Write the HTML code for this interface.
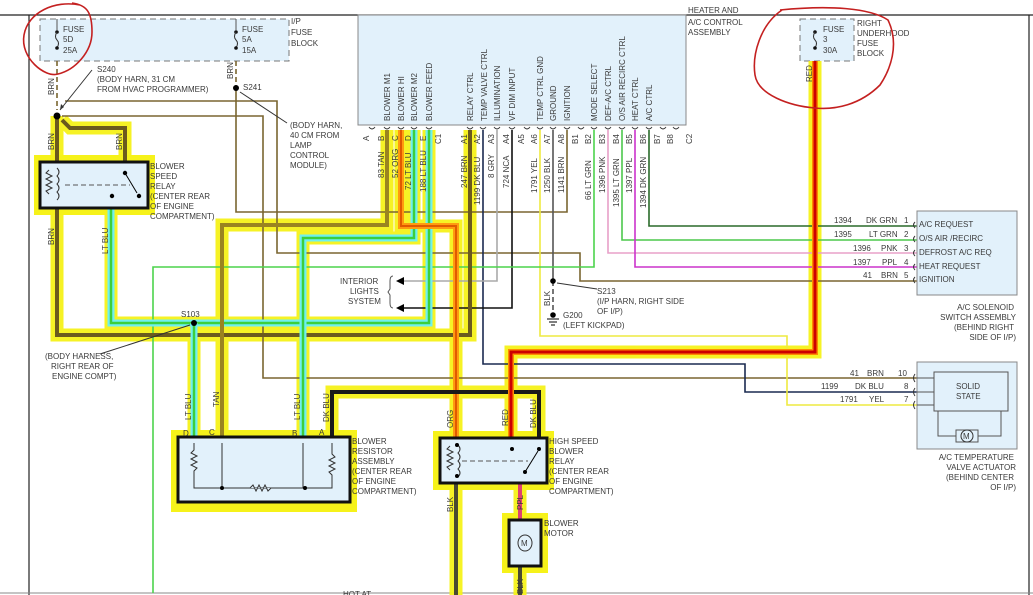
<!DOCTYPE html>
<html><head><meta charset="utf-8"><style>
html,body{margin:0;padding:0;background:#fff;}
svg{display:block;}
text{font-family:"Liberation Sans",sans-serif;font-size:8px;fill:#3a3a3a;}
</style></head><body>
<svg width="1033" height="595" viewBox="0 0 1033 595" xmlns="http://www.w3.org/2000/svg">
<rect width="1033" height="595" fill="#fff"/>
<!-- frame -->
<line x1="0" y1="15" x2="1033" y2="15" stroke="#222" stroke-width="1.2"/>
<line x1="29" y1="15" x2="29" y2="595" stroke="#222" stroke-width="1.2"/>
<line x1="1029" y1="15" x2="1029" y2="595" stroke="#222" stroke-width="1.2"/>
<line x1="0" y1="593" x2="1033" y2="593" stroke="#888" stroke-width="1"/>

<!-- I/P fuse block -->
<rect x="40" y="19" width="249" height="42" fill="#e2f1fb" stroke="#777" stroke-dasharray="6,4"/>
<text x="291" y="24">I/P</text><text x="291" y="35">FUSE</text><text x="291" y="46">BLOCK</text>
<line x1="57" y1="19" x2="57" y2="30" stroke="#555"/><circle cx="57" cy="32" r="1.8" fill="#111"/>
<path d="M57,32 q-3,5 0,8 q3,3 0,8" fill="none" stroke="#333"/><circle cx="57" cy="48" r="1.8" fill="#111"/>
<text x="63" y="32">FUSE</text><text x="63" y="42">5D</text><text x="63" y="53">25A</text>
<line x1="236" y1="19" x2="236" y2="30" stroke="#555"/><circle cx="236" cy="32" r="1.8" fill="#111"/>
<path d="M236,32 q-3,5 0,8 q3,3 0,8" fill="none" stroke="#333"/><circle cx="236" cy="48" r="1.8" fill="#111"/>
<text x="242" y="32">FUSE</text><text x="242" y="42">5A</text><text x="242" y="53">15A</text>

<!-- control assembly -->
<rect x="358" y="15" width="328" height="110" fill="#e2f1fb" stroke="#888"/>
<text x="688" y="13">HEATER AND</text><text x="688" y="25">A/C CONTROL</text><text x="688" y="35">ASSEMBLY</text>

<!-- right fuse -->
<rect x="800" y="19" width="54" height="42" fill="#e2f1fb" stroke="#777" stroke-dasharray="6,4"/>
<circle cx="815" cy="32" r="1.8" fill="#111"/><path d="M815,32 q-3,5 0,8 q3,3 0,8" fill="none" stroke="#333"/><circle cx="815" cy="48" r="1.8" fill="#111"/>
<text x="823" y="32">FUSE</text><text x="823" y="42">3</text><text x="823" y="53">30A</text>
<text x="857" y="26">RIGHT</text><text x="857" y="36">UNDERHOOD</text><text x="857" y="46">FUSE</text><text x="857" y="56">BLOCK</text>

<!-- glows -->
<g fill="none" stroke="#f6f21a" stroke-width="13" stroke-linejoin="miter" opacity="0.95">
<path d="M57,116 V335 H470 V130"/>
<path d="M62,120 L70,128 H125 V162"/>
<path d="M429,130 V323 H111 V208"/>
<path d="M194,323 V437"/>
<path d="M387,130 V225 H222 V437"/>
<path d="M414,130 V238 H303 V437"/>
<path d="M401,130 V226 H456 V595"/>
<path d="M332,437 V392 H539 V437"/>
<path d="M815,61 V352 H511 V437"/>
<path d="M520,483 V595"/>
</g>
<g fill="#f6f21a">
<rect x="34" y="155" width="121" height="60"/>
<rect x="171" y="430" width="186" height="82"/>
<rect x="433" y="431" width="121" height="59"/>
<rect x="502" y="513" width="46" height="60"/>
</g>

<!-- thin wires -->
<g fill="none" stroke-width="1.6">
<path d="M57,61 V110" stroke="#7a6530" stroke-dasharray="5,3"/>
<path d="M236,61 V88" stroke="#7a6530" stroke-dasharray="5,3"/>
<path d="M236,88 V212 H567 V130" stroke="#7a6530"/>
<path d="M65,101 H277 V253 H580 V281 H930" stroke="#7a6530"/>
<path d="M62,116 H263 V378 H930" stroke="#7a6530"/>
<path d="M483,130 V364 H745 V392 H930" stroke="#1a2a50"/>
<path d="M497,130 V281 H400" stroke="#aaa"/>
<path d="M512,130 V308 H400" stroke="#111"/>
<path d="M540,130 V336 H787 V405 H930" stroke="#eeea40"/>
<path d="M553,130 V281" stroke="#555"/>
<path d="M553,281 V315" stroke="#555" stroke-dasharray="5,3"/>
<path d="M594,130 V267 H153 V593" stroke="#4cd44c"/>
<path d="M608,130 V253 H930" stroke="#e8a0c8"/>
<path d="M622,130 V240 H930" stroke="#4cc84c"/>
<path d="M635,130 V267 H930" stroke="#cc33cc"/>
<path d="M649,130 V226 H930" stroke="#2a6a2a"/>
</g>

<!-- thick colored wires -->
<g fill="none" stroke-linejoin="miter">
<path d="M57,116 V335 H470 V130" stroke="#6b5a1e" stroke-width="4"/>
<path d="M62,120 L70,128 H125 V162" stroke="#6b5a1e" stroke-width="4"/>
<path d="M429,130 V323 H111 V208" stroke="#6ff0f0" stroke-width="7"/>
<path d="M429,130 V323 H111 V208" stroke="#3ccf3c" stroke-width="2.5"/>
<path d="M194,323 V437" stroke="#6ff0f0" stroke-width="7"/>
<path d="M194,323 V437" stroke="#3ccf3c" stroke-width="2.5"/>
<path d="M414,130 V238 H303 V437" stroke="#6ff0f0" stroke-width="7"/>
<path d="M414,130 V238 H303 V437" stroke="#3ccf3c" stroke-width="2.5"/>
<path d="M387,130 V225 H222 V437" stroke="#9a8420" stroke-width="4"/>
<path d="M401,130 V226 H456 V437" stroke="#ff9a10" stroke-width="6"/>
<path d="M401,130 V226 H456 V437" stroke="#e05a00" stroke-width="2"/>
<path d="M332,437 V392 H539 V437" stroke="#1a1a1a" stroke-width="4"/>
<path d="M815,61 V352 H511 V437" stroke="#ff8a00" stroke-width="6"/>
<path d="M815,61 V352 H511 V437" stroke="#cc0000" stroke-width="3"/>
<path d="M456,483 V595" stroke="#4a4a30" stroke-width="4"/>
<path d="M520,483 V520" stroke="#e04070" stroke-width="4"/>
<path d="M520,566 V595" stroke="#4a4a30" stroke-width="4"/>
</g>

<!-- splices -->
<g fill="#000">
<circle cx="57" cy="116" r="3.5"/><circle cx="236" cy="88" r="3"/><circle cx="194" cy="323" r="3"/>
<circle cx="553" cy="281" r="2.8"/><circle cx="553" cy="315" r="2.8"/>
</g>
<path d="M547,319 h12 M549,322 h8 M551,325 h4" stroke="#000"/>
<path d="M92,70 L60,110" stroke="#333" fill="none"/><path d="M60,110 l1,-6 l3,3z" fill="#333"/>
<path d="M287,123 L240,92" stroke="#333" fill="none"/>
<path d="M100,354 L190,325" stroke="#333" fill="none"/>
<path d="M597,289 L557,283" stroke="#333" fill="none"/>
<text x="97" y="72">S240</text><text x="97" y="82">(BODY HARN, 31 CM</text><text x="97" y="92">FROM HVAC PROGRAMMER)</text>
<text x="243" y="90">S241</text>
<text x="290" y="128">(BODY HARN,</text><text x="290" y="138">40 CM FROM</text><text x="290" y="148">LAMP</text><text x="290" y="158">CONTROL</text><text x="290" y="168">MODULE)</text>
<text x="181" y="317">S103</text>
<text x="45" y="359">(BODY HARNESS,</text><text x="51" y="369">RIGHT REAR OF</text><text x="52" y="379">ENGINE COMPT)</text>
<text x="340" y="284">INTERIOR</text><text x="350" y="294">LIGHTS</text><text x="348" y="304">SYSTEM</text>
<path d="M393,276 q-3,0 -3,5 v8 l-2,3 l2,3 v8 q0,5 3,5" fill="none" stroke="#555"/>
<path d="M396,281 l8,-4 v8z M396,308 l8,-4 v8z" fill="#000"/>
<text x="597" y="294">S213</text><text x="597" y="304">(I/P HARN, RIGHT SIDE</text><text x="597" y="314">OF I/P)</text>
<text x="563" y="318">G200</text><text x="563" y="328">(LEFT KICKPAD)</text>

<!-- blower speed relay -->
<rect x="40" y="162" width="108" height="46" fill="#e2f1fb" stroke="#111" stroke-width="3"/>
<path d="M49,170 l-3,3 l6,3 l-6,3 l6,3 l-6,3 l6,3 l-6,3 l3,3" fill="none" stroke="#333"/>
<path d="M57,168 q4,4 0,8 q4,4 0,8 q4,4 0,8 q4,4 0,8" fill="none" stroke="#333"/>
<path d="M65,185 H130" stroke="#555" stroke-dasharray="5,3"/>
<circle cx="125" cy="173" r="2.2" fill="#000"/><circle cx="139" cy="196" r="2.2" fill="#000"/><circle cx="112" cy="196" r="2.2" fill="#000"/>
<path d="M125,173 L137,193" stroke="#000"/>
<text x="150" y="169">BLOWER</text><text x="150" y="179">SPEED</text><text x="150" y="189">RELAY</text><text x="150" y="199">(CENTER REAR</text><text x="150" y="209">OF ENGINE</text><text x="150" y="219">COMPARTMENT)</text>

<!-- blower resistor -->
<rect x="178" y="437" width="172" height="65" fill="#e2f1fb" stroke="#111" stroke-width="3"/>
<path d="M194,443 V450 l-3,3 l6,3 l-6,3 l6,3 l-6,3 l6,3 l-3,3 V488 H332 V475 l-3,-3 l6,-3 l-6,-3 l6,-3 l-6,-3 l6,-3 l-3,-3 V443" fill="none" stroke="#333"/>
<path d="M222,443 V488 M303,443 V488" stroke="#333"/>
<path d="M250,488 l3,-3 l3,6 l3,-6 l3,6 l3,-6 l3,6 l3,-3" fill="#e2f1fb" stroke="#333"/>
<circle cx="222" cy="488" r="2" fill="#000"/><circle cx="305" cy="488" r="2" fill="#000"/>
<text x="183" y="436">D</text><text x="209" y="435">C</text><text x="292" y="436">B</text><text x="319" y="435">A</text>
<text x="352" y="444">BLOWER</text><text x="352" y="454">RESISTOR</text><text x="352" y="464">ASSEMBLY</text><text x="352" y="474">(CENTER REAR</text><text x="352" y="484">OF ENGINE</text><text x="352" y="494">COMPARTMENT)</text>

<!-- high speed relay -->
<rect x="440" y="438" width="107" height="45" fill="#e2f1fb" stroke="#111" stroke-width="3"/>
<path d="M450,446 l-3,3 l6,3 l-6,3 l6,3 l-6,3 l6,3 l-6,3 l3,3" fill="none" stroke="#333"/>
<path d="M458,445 q4,4 0,8 q4,4 0,8 q4,4 0,8 q4,4 0,8" fill="none" stroke="#333"/>
<circle cx="457" cy="445" r="2" fill="#000"/><circle cx="457" cy="476" r="2" fill="#000"/>
<path d="M462,461 H528" stroke="#555" stroke-dasharray="5,3"/>
<circle cx="512" cy="449" r="2" fill="#000"/><circle cx="539" cy="449" r="2" fill="#000"/><circle cx="525" cy="472" r="2" fill="#000"/>
<path d="M525,472 L538,451" stroke="#000"/>
<text x="549" y="444">HIGH SPEED</text><text x="549" y="454">BLOWER</text><text x="549" y="464">RELAY</text><text x="549" y="474">(CENTER REAR</text><text x="549" y="484">OF ENGINE</text><text x="549" y="494">COMPARTMENT)</text>

<!-- blower motor -->
<rect x="509" y="520" width="32" height="46" fill="#e2f1fb" stroke="#111" stroke-width="3"/>
<ellipse cx="525" cy="543" rx="7" ry="8" fill="#e2f1fb" stroke="#333"/><text x="521" y="546">M</text>
<text x="544" y="526">BLOWER</text><text x="544" y="536">MOTOR</text>
<text x="343" y="597">HOT AT</text>

<!-- A/C solenoid switch -->
<rect x="917" y="211" width="100" height="84" fill="#e2f1fb" stroke="#888"/>
<g>
<text x="919" y="227">A/C REQUEST</text><text x="919" y="241">O/S AIR /RECIRC</text><text x="919" y="255">DEFROST A/C REQ</text><text x="919" y="269">HEAT REQUEST</text><text x="919" y="282">IGNITION</text>
<text x="834" y="223">1394</text><text x="866" y="223">DK GRN</text><text x="904" y="223">1</text>
<text x="834" y="237">1395</text><text x="869" y="237">LT GRN</text><text x="904" y="237">2</text>
<text x="853" y="251">1396</text><text x="881" y="251">PNK</text><text x="904" y="251">3</text>
<text x="853" y="265">1397</text><text x="882" y="265">PPL</text><text x="904" y="265">4</text>
<text x="863" y="278">41</text><text x="881" y="278">BRN</text><text x="904" y="278">5</text>
</g>
<path d="M915,222 q-3,3 0,6 M915,236 q-3,3 0,6 M915,250 q-3,3 0,6 M915,264 q-3,3 0,6 M915,277 q-3,3 0,6" fill="none" stroke="#333"/>
<g text-anchor="end"><text x="1014" y="310">A/C SOLENOID</text><text x="1016" y="320">SWITCH ASSEMBLY</text><text x="1014" y="330">(BEHIND RIGHT</text><text x="1016" y="340">SIDE OF I/P)</text>
<text x="1014" y="460">A/C TEMPERATURE</text><text x="1016" y="470">VALVE ACTUATOR</text><text x="1014" y="480">(BEHIND CENTER</text><text x="1016" y="490">OF I/P)</text></g>

<!-- temp valve actuator -->
<rect x="917" y="362" width="100" height="87" fill="#e2f1fb" stroke="#888"/>
<rect x="934" y="372" width="74" height="39" fill="#e2f1fb" stroke="#555"/>
<text x="956" y="389">SOLID</text><text x="956" y="399">STATE</text>
<path d="M938,411 V436 H1001 V411" fill="none" stroke="#555"/>
<rect x="956" y="430" width="22" height="12" fill="#e2f1fb" stroke="#555"/>
<circle cx="967" cy="436" r="6" fill="#e2f1fb" stroke="#333"/><text x="963" y="439">M</text>
<path d="M917,378 H934 M917,392 H934 M917,405 H934" stroke="#555"/>
<path d="M915,374 q-3,4 0,8 M915,388 q-3,4 0,8 M915,401 q-3,4 0,8" fill="none" stroke="#333"/>
<text x="850" y="376">41</text><text x="867" y="376">BRN</text><text x="898" y="376">10</text>
<text x="821" y="389">1199</text><text x="855" y="389">DK BLU</text><text x="904" y="389">8</text>
<text x="840" y="402">1791</text><text x="869" y="402">YEL</text><text x="904" y="402">7</text>

<!-- connector pins -->
<g fill="none" stroke="#333" stroke-width="0.9">
<path d="M369,127 q3,4 6,0 M384,127 q3,4 6,0 M398,127 q3,4 6,0 M411,127 q3,4 6,0 M426,127 q3,4 6,0 M467,127 q3,4 6,0 M480,127 q3,4 6,0 M494,127 q3,4 6,0 M509,127 q3,4 6,0 M524,127 q3,4 6,0 M537,127 q3,4 6,0 M550,127 q3,4 6,0 M564,127 q3,4 6,0 M578,127 q3,4 6,0 M591,127 q3,4 6,0 M605,127 q3,4 6,0 M619,127 q3,4 6,0 M632,127 q3,4 6,0 M646,127 q3,4 6,0 M660,127 q3,4 6,0 M673,127 q3,4 6,0"/>
</g>
<!-- rotated labels -->
<g font-size="8">
<g transform="translate(390,121) rotate(-90)"><text>BLOWER M1</text></g>
<g transform="translate(404,121) rotate(-90)"><text>BLOWER HI</text></g>
<g transform="translate(417,121) rotate(-90)"><text>BLOWER M2</text></g>
<g transform="translate(432,121) rotate(-90)"><text>BLOWER FEED</text></g>
<g transform="translate(473,121) rotate(-90)"><text>RELAY CTRL</text></g>
<g transform="translate(487,121) rotate(-90)"><text>TEMP VALVE CTRL</text></g>
<g transform="translate(500,121) rotate(-90)"><text>ILLUMINATION</text></g>
<g transform="translate(515,121) rotate(-90)"><text>VF DIM INPUT</text></g>
<g transform="translate(543,121) rotate(-90)"><text>TEMP CTRL GND</text></g>
<g transform="translate(556,121) rotate(-90)"><text>GROUND</text></g>
<g transform="translate(570,121) rotate(-90)"><text>IGNITION</text></g>
<g transform="translate(597,121) rotate(-90)"><text>MODE SELECT</text></g>
<g transform="translate(611,121) rotate(-90)"><text>DEF-A/C CTRL</text></g>
<g transform="translate(625,121) rotate(-90)"><text>O/S AIR RECIRC CTRL</text></g>
<g transform="translate(638,121) rotate(-90)"><text>HEAT CTRL</text></g>
<g transform="translate(652,121) rotate(-90)"><text>A/C CTRL</text></g>
<!-- pin letters -->
<g transform="translate(369,141) rotate(-90)"><text>A</text></g>
<g transform="translate(384,141) rotate(-90)"><text>B</text></g>
<g transform="translate(398,141) rotate(-90)"><text>C</text></g>
<g transform="translate(411,141) rotate(-90)"><text>D</text></g>
<g transform="translate(426,141) rotate(-90)"><text>E</text></g>
<g transform="translate(441,144) rotate(-90)"><text>C1</text></g>
<g transform="translate(467,144) rotate(-90)"><text>A1</text></g>
<g transform="translate(480,144) rotate(-90)"><text>A2</text></g>
<g transform="translate(494,144) rotate(-90)"><text>A3</text></g>
<g transform="translate(509,144) rotate(-90)"><text>A4</text></g>
<g transform="translate(524,144) rotate(-90)"><text>A5</text></g>
<g transform="translate(537,144) rotate(-90)"><text>A6</text></g>
<g transform="translate(550,144) rotate(-90)"><text>A7</text></g>
<g transform="translate(564,144) rotate(-90)"><text>A8</text></g>
<g transform="translate(578,144) rotate(-90)"><text>B1</text></g>
<g transform="translate(591,144) rotate(-90)"><text>B2</text></g>
<g transform="translate(605,144) rotate(-90)"><text>B3</text></g>
<g transform="translate(619,144) rotate(-90)"><text>B4</text></g>
<g transform="translate(632,144) rotate(-90)"><text>B5</text></g>
<g transform="translate(646,144) rotate(-90)"><text>B6</text></g>
<g transform="translate(660,144) rotate(-90)"><text>B7</text></g>
<g transform="translate(673,144) rotate(-90)"><text>B8</text></g>
<g transform="translate(692,144) rotate(-90)"><text>C2</text></g>
<!-- wire labels -->
<g transform="translate(384,178) rotate(-90)"><text>83   TAN</text></g>
<g transform="translate(398,178) rotate(-90)"><text>52   ORG</text></g>
<g transform="translate(411,190) rotate(-90)"><text>72    LT BLU</text></g>
<g transform="translate(426,192) rotate(-90)"><text>188   LT BLU</text></g>
<g transform="translate(467,188) rotate(-90)"><text>247   BRN</text></g>
<g transform="translate(480,205) rotate(-90)"><text>1199   DK BLU</text></g>
<g transform="translate(494,178) rotate(-90)"><text>8   GRY</text></g>
<g transform="translate(509,188) rotate(-90)"><text>724   NCA</text></g>
<g transform="translate(537,193) rotate(-90)"><text>1791   YEL</text></g>
<g transform="translate(550,193) rotate(-90)"><text>1250   BLK</text></g>
<g transform="translate(564,193) rotate(-90)"><text>1141   BRN</text></g>
<g transform="translate(591,200) rotate(-90)"><text>66    LT GRN</text></g>
<g transform="translate(605,193) rotate(-90)"><text>1396   PNK</text></g>
<g transform="translate(619,207) rotate(-90)"><text>1395   LT GRN</text></g>
<g transform="translate(632,193) rotate(-90)"><text>1397   PPL</text></g>
<g transform="translate(646,208) rotate(-90)"><text>1394   DK GRN</text></g>
<g transform="translate(54,95) rotate(-90)"><text>BRN</text></g>
<g transform="translate(233,79) rotate(-90)"><text>BRN</text></g>
<g transform="translate(54,150) rotate(-90)"><text>BRN</text></g>
<g transform="translate(122,150) rotate(-90)"><text>BRN</text></g>
<g transform="translate(54,245) rotate(-90)"><text>BRN</text></g>
<g transform="translate(108,254) rotate(-90)"><text>LT BLU</text></g>
<g transform="translate(812,82) rotate(-90)"><text>RED</text></g>
<g transform="translate(191,420) rotate(-90)"><text>LT BLU</text></g>
<g transform="translate(219,407) rotate(-90)"><text>TAN</text></g>
<g transform="translate(300,420) rotate(-90)"><text>LT BLU</text></g>
<g transform="translate(329,422) rotate(-90)"><text>DK BLU</text></g>
<g transform="translate(453,428) rotate(-90)"><text>ORG</text></g>
<g transform="translate(508,426) rotate(-90)"><text>RED</text></g>
<g transform="translate(536,428) rotate(-90)"><text>DK BLU</text></g>
<g transform="translate(453,512) rotate(-90)"><text>BLK</text></g>
<g transform="translate(523,510) rotate(-90)"><text>PPL</text></g>
<g transform="translate(523,594) rotate(-90)"><text>BLK</text></g>
<g transform="translate(550,306) rotate(-90)"><text>BLK</text></g>
</g>

<!-- hand drawn red circles -->
<path d="M80,5 C55,0 28,12 24,35 C20,58 45,78 58,74 C75,70 92,52 92,32 C92,14 88,5 72,3" fill="none" stroke="#c42020" stroke-width="1.6"/>
<path d="M780,10 C830,5 870,8 888,20 C900,45 890,70 880,85 C860,105 835,110 815,108 C790,106 758,95 755,75 C752,55 760,25 782,10" fill="none" stroke="#c42020" stroke-width="1.6"/>
</svg>
</body></html>
